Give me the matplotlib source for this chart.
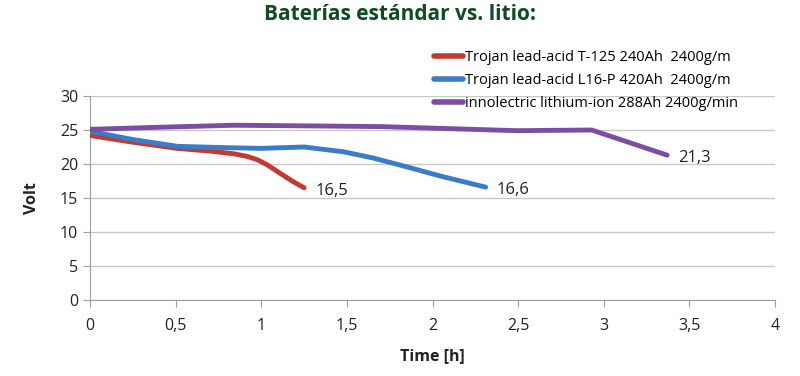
import matplotlib
matplotlib.use("Agg")
import matplotlib.pyplot as plt
from matplotlib.ticker import FuncFormatter

plt.rcParams['font.family'] = ['Open Sans', 'DejaVu Sans']

title = "Baterías estándar vs. litio:"
labels = ["Trojan lead-acid T-125 240Ah  2400g/m",
          "Trojan lead-acid L16-P 420Ah  2400g/m",
          "innolectric lithium-ion 288Ah 2400g/min"]

red_t = [0.0, 0.25, 0.51, 0.7, 0.84, 0.92, 0.98, 1.04, 1.1, 1.18, 1.25]
red_v = [24.2, 23.2, 22.3, 21.9, 21.5, 21.1, 20.6, 19.8, 18.8, 17.5, 16.5]

blue_t = [0.0, 0.25, 0.51, 0.8, 1.0, 1.25, 1.48, 1.65, 1.81, 2.05, 2.31]
blue_v = [24.8, 23.6, 22.6, 22.4, 22.3, 22.5, 21.8, 20.9, 19.85, 18.2, 16.6]

purple_t = [0.0, 0.4, 0.84, 1.3, 1.7, 2.1, 2.49, 2.93, 3.37]
purple_v = [25.1, 25.4, 25.7, 25.6, 25.5, 25.2, 24.9, 25.0, 21.3]

end_labels = ["16,5", "16,6", "21,3"]
colors = ["#c23a32", "#3b7cc6", "#7b4ea3"]

xticks = [0, 0.5, 1, 1.5, 2, 2.5, 3, 3.5, 4]
yticks = [0, 5, 10, 15, 20, 25, 30]

fig = plt.figure(figsize=(8, 3.76), dpi=100)
ax = fig.add_axes([90/800, 1-300/376, (775-90)/800, (300-96)/376])

series = [(red_t, red_v), (blue_t, blue_v), (purple_t, purple_v)]
for (t, v), c, lab, el in zip(series, colors, labels, end_labels):
    ax.plot(t, v, color=c, lw=3.5, solid_capstyle='round', solid_joinstyle='round',
            label=lab, zorder=3)
    ax.annotate(el, (t[-1], v[-1]), xytext=(8, -2), textcoords='offset points',
                fontsize=12, color='#222222', va='center', ha='left')

ax.set_xlim(0, 4)
ax.set_ylim(0, 30)
ax.set_xticks(xticks)
ax.set_yticks(yticks)
fmt = FuncFormatter(lambda x, p: ('%g' % x).replace('.', ','))
ax.xaxis.set_major_formatter(fmt)
ax.grid(axis='y', color='#c8c8c8', lw=1)
ax.set_axisbelow(True)
for s in ['top', 'right']:
    ax.spines[s].set_visible(False)
ax.spines['left'].set_color('#a0a0a0')
ax.spines['bottom'].set_color('#a0a0a0')
ax.tick_params(axis='both', colors='#a0a0a0', labelcolor='#222222', labelsize=11.5, length=5)
ax.tick_params(axis='x', pad=8)
ax.set_xlabel("Time [h]", fontsize=11.5, fontweight='bold', color='#222222', labelpad=10)
ax.set_ylabel("Volt", fontsize=11.5, fontweight='bold', color='#222222', labelpad=14)

leg = ax.legend(loc='lower left', bbox_to_anchor=(428/800, 1-117/376), bbox_transform=fig.transFigure,
                frameon=False, fontsize=10.5, handlelength=2.0, handletextpad=0.15,
                labelspacing=0.55, borderaxespad=0)
for h in leg.get_lines():
    h.set_linewidth(4)

fig.text(0.5, 1-14/376, title, ha='center', va='center', fontsize=15, fontweight='bold', color='#0e4a24')

fig.savefig("out.png", dpi=100)
